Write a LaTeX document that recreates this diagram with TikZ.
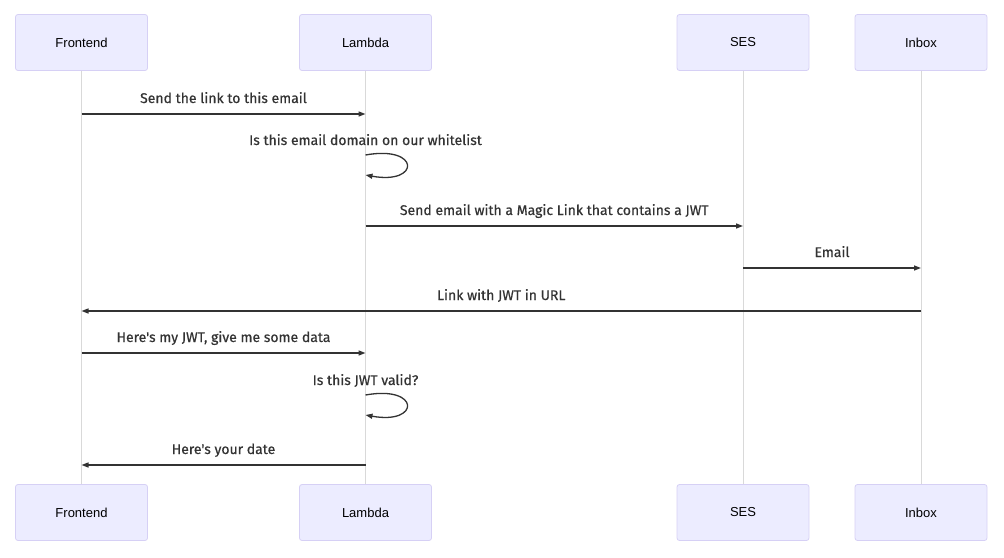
\documentclass[tikz,border=0pt]{standalone}
\usepackage{fontspec}
\setmainfont{Liberation Sans}
\newfontfamily\msgfont[FakeBold=0.6]{Fira Sans}
\usetikzlibrary{arrows.meta}
\usetikzlibrary{positioning}

\definecolor{actorfill}{HTML}{ECECFF}
\definecolor{actorline}{HTML}{D6D0F5}
\definecolor{lifegray}{HTML}{D9D9D9}
\definecolor{msgline}{HTML}{333333}

\begin{document}
\begin{tikzpicture}[
    x=1pt, y=-1pt,
    >={Triangle[length=7pt, width=5pt]},
    actor/.style={rectangle, draw=actorline, fill=actorfill, rounded corners=2.5pt,
        line width=0.8pt, minimum width=132pt, minimum height=56pt,
        font=\fontsize{13}{15}\selectfont},
    lifeline/.style={draw=lifegray, line width=0.9pt},
    msg/.style={->, draw=msgline, line width=1.3pt},
    msglabel/.style={font=\msgfont\fontsize{14}{16}\selectfont, text=msgline,
        inner sep=0pt, anchor=base}
]
\useasboundingbox (0,0) rectangle (1004,557);

% Participants
\node[actor] (feT) at (81.5,42.5) {Frontend};
\node[actor] (laT) at (365.5,42.5) {Lambda};
\node[actor] (seT) at (743,42.5) {SES};
\node[actor] (inT) at (921,42.5) {Inbox};
\node[actor] (feB) at (81.5,512.5) {Frontend};
\node[actor] (laB) at (365.5,512.5) {Lambda};
\node[actor] (seB) at (743,512.5) {SES};
\node[actor] (inB) at (921,512.5) {Inbox};

% Lifelines
\draw[lifeline] (feT) -- (feB);
\draw[lifeline] (laT) -- (laB);
\draw[lifeline] (seT) -- (seB);
\draw[lifeline] (inT) -- (inB);

% Message points
\coordinate (m1a) at (81.5,114);  \coordinate (m1b) at (365.5,114);
\coordinate (m2a) at (365.5,155); \coordinate (m2b) at (365.5,175);
\coordinate (m3a) at (365.5,226); \coordinate (m3b) at (743,226);
\coordinate (m4a) at (743,268);   \coordinate (m4b) at (921,268);
\coordinate (m5a) at (921,311);   \coordinate (m5b) at (81.5,311);
\coordinate (m6a) at (81.5,353);  \coordinate (m6b) at (365.5,353);
\coordinate (m7a) at (365.5,395); \coordinate (m7b) at (365.5,415);
\coordinate (m8a) at (365.5,465); \coordinate (m8b) at (81.5,465);

% Messages
\draw[msg] (m1a) -- node[msglabel, yshift=11pt] (l1) {Send the link to this email} (m1b);
\node[msglabel] (l2) at (365.5,145) {Is this email domain on our whitelist};
\draw[msg] (m2a) .. controls +(55,-10) and +(55,10) .. (m2b);
\draw[msg] (m3a) -- node[msglabel, yshift=11pt] (l3) {Send email with a Magic Link that contains a JWT} (m3b);
\draw[msg] (m4a) -- node[msglabel, yshift=11pt] (l4) {Email} (m4b);
\draw[msg] (m5a) -- node[msglabel, yshift=11pt] (l5) {Link with JWT in URL} (m5b);
\draw[msg] (m6a) -- node[msglabel, yshift=11pt] (l6) {Here's my JWT, give me some data} (m6b);
\node[msglabel] (l7) at (365.5,385) {Is this JWT valid?};
\draw[msg] (m7a) .. controls +(55,-10) and +(55,10) .. (m7b);
\draw[msg] (m8a) -- node[msglabel, yshift=11pt] (l8) {Here's your date} (m8b);

\end{tikzpicture}
\end{document}
